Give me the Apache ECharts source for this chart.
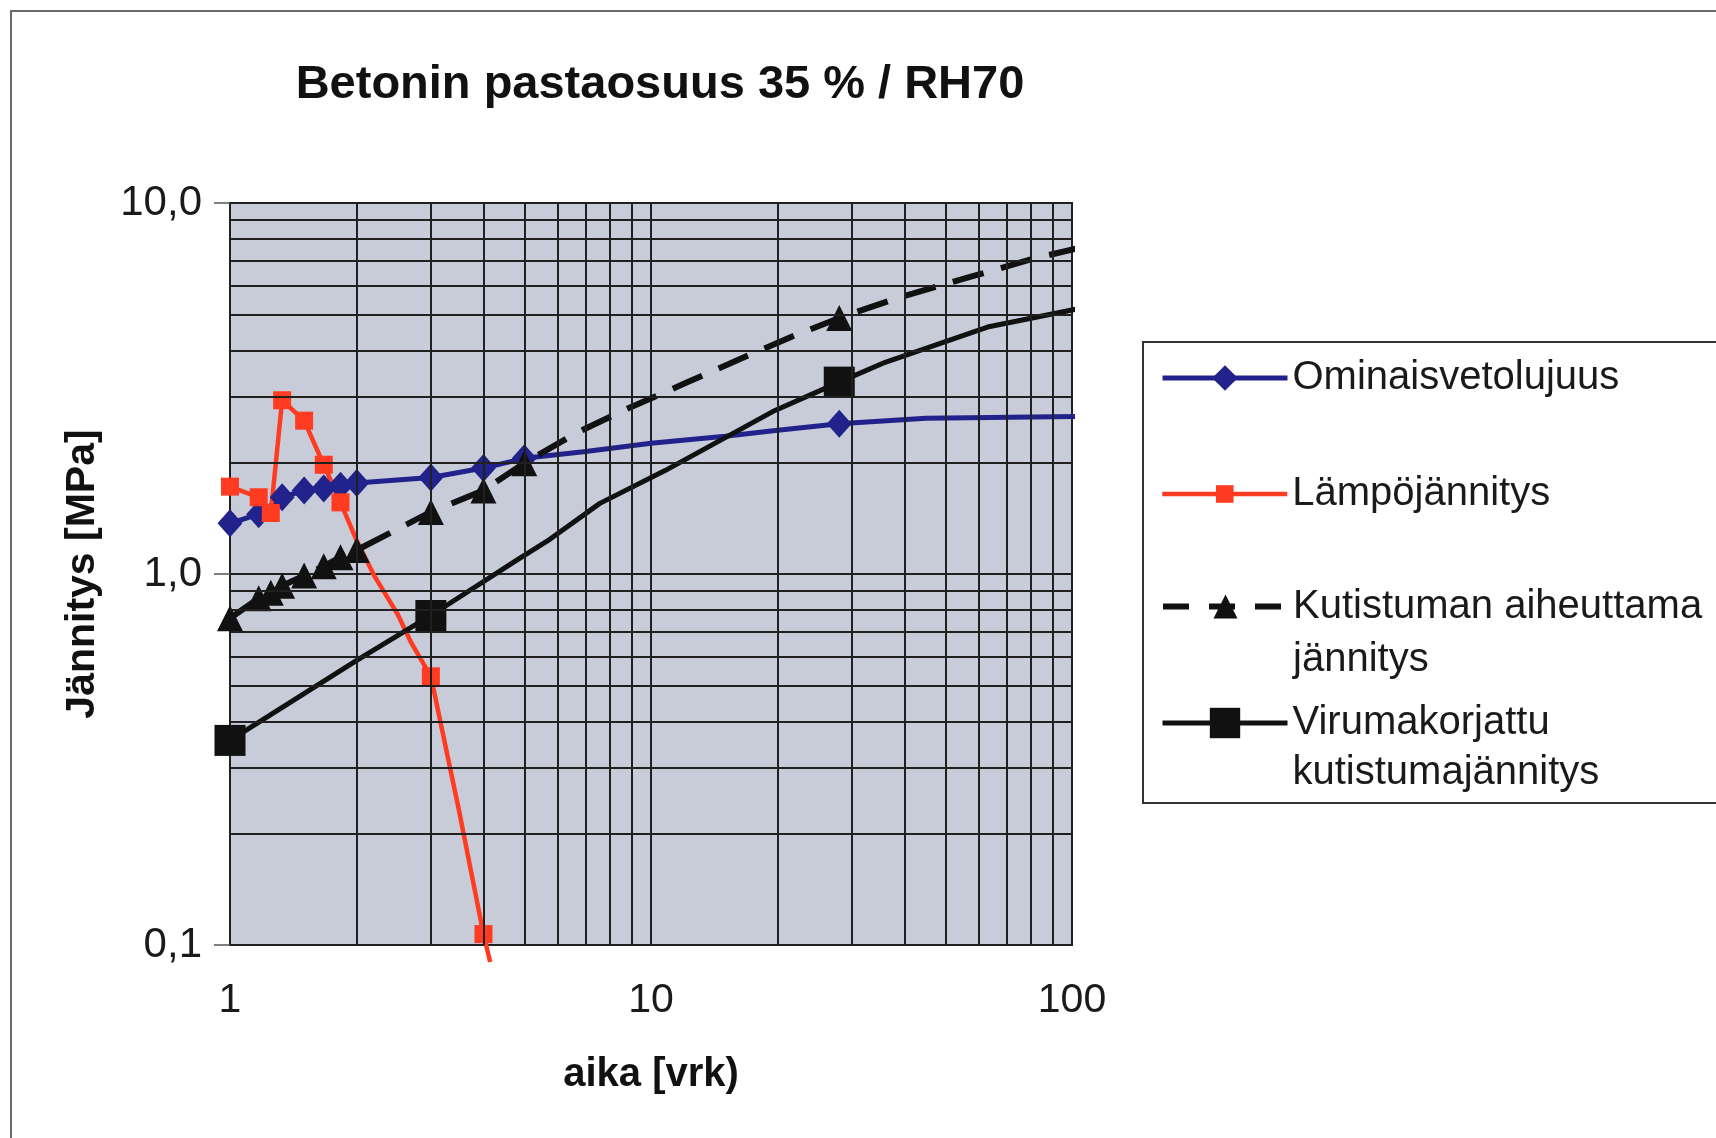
<!DOCTYPE html>
<html>
<head>
<meta charset="utf-8">
<script src="https://cdn.jsdelivr.net/npm/echarts@6/dist/echarts.min.js"></script>
<style>
  html, body { margin: 0; padding: 0; background: #fff; }
  #chart { width: 1716px; height: 1138px; }
</style>
</head>
<body>
<div id="chart"></div>
<script>
// ---- data ----
const titleText = 'Betonin pastaosuus 35 % / RH70';
const xAxisName = 'aika [vrk)';
const yAxisName = 'Jännitys [MPa]';

const seriesNames = ['Ominaisvetolujuus', 'Lämpöjännitys', 'Kutistuman aiheuttama jännitys', 'Virumakorjattu kutistumajännitys'];
const legendLabels = ['Ominaisvetolujuus', 'Lämpöjännitys', 'Kutistuman aiheuttama\njännitys', 'Virumakorjattu\nkutistumajännitys'];

const ominaisDays   = [1, 1.17, 1.33, 1.5, 1.67, 1.83, 2, 3, 4, 5, 7, 10, 15, 20, 28, 45, 110];
const ominaisValues = [1.37, 1.45, 1.61, 1.68, 1.70, 1.73, 1.76, 1.82, 1.93, 2.05, 2.14, 2.25, 2.35, 2.44, 2.54, 2.63, 2.66];
const ominaisMarkerDays = [1, 1.17, 1.33, 1.5, 1.67, 1.83, 2, 3, 4, 5, 28];

const lampoDays   = [1, 1.17, 1.25, 1.33, 1.5, 1.67, 1.83, 2, 2.2, 2.5, 2.7, 3, 3.5, 4, 4.15];
const lampoValues = [1.72, 1.61, 1.46, 2.94, 2.59, 1.97, 1.56, 1.23, 0.99, 0.78, 0.65, 0.53, 0.23, 0.107, 0.09];
const lampoMarkerDays = [1, 1.17, 1.25, 1.33, 1.5, 1.67, 1.83, 3, 4];

const kutistumaDays   = [1, 1.17, 1.25, 1.33, 1.5, 1.67, 1.83, 2, 3, 4, 5, 6.6, 8.6, 12, 17, 22, 28, 38, 57, 81, 110];
const kutistumaValues = [0.76, 0.86, 0.89, 0.93, 0.99, 1.05, 1.11, 1.16, 1.47, 1.68, 1.99, 2.39, 2.76, 3.26, 3.88, 4.4, 4.9, 5.52, 6.31, 7.08, 7.68];
const kutistumaMarkerDays = [1, 1.17, 1.25, 1.33, 1.5, 1.67, 1.83, 2, 3, 4, 5, 28];

const virumaDays   = [1, 2, 3, 4.8, 5.75, 7.56, 10.8, 19.7, 28, 36, 63, 110];
const virumaValues = [0.356, 0.585, 0.773, 1.09, 1.24, 1.55, 1.9, 2.76, 3.29, 3.72, 4.63, 5.26];
const virumaMarkerDays = [1, 3, 28];

const xMin = 1, xMax = 100;
const yMin = 0.1, yMax = 10;
const xMinorGrid = [2, 3, 4, 5, 6, 7, 8, 9, 20, 30, 40, 50, 60, 70, 80, 90];
const yMinorGrid = [0.2, 0.3, 0.4, 0.5, 0.6, 0.7, 0.8, 0.9, 2, 3, 4, 5, 6, 7, 8, 9];

// ---- build ----
const FONT = 'Liberation Sans, Arial, sans-serif';
function buildData(days, values, markerDays) {
  return days.map((d, i) => {
    const item = { value: [d, values[i]] };
    if (markerDays.indexOf(d) < 0) item.symbol = 'none';
    return item;
  });
}

const gridLineStyle = { color: '#202020', width: 2, type: 'solid' };

const seriesColors = ['#22228c', '#ff3b22', '#111111', '#111111'];
const seriesWidths = [5, 4.5, 6, 5];
const seriesDash = ['solid', 'solid', [32, 18], 'solid'];
const legendDash = ['solid', 'solid', [26, 20], 'solid'];

const chart = echarts.init(document.getElementById('chart'), null, { renderer: 'canvas' });

const legendTops = [352, 468, 527, 648];
const legendItemHeights = [32, 22, 30, 38];
const legendLineHeights = [52, 52, 53, 50];

const legends = seriesNames.map((name, i) => ({
  data: [name],
  left: 1160,
  top: legendTops[i],
  orient: 'vertical',
  padding: 0,
  itemWidth: 125,
  itemHeight: legendItemHeights[i],
  selectedMode: false,
  lineStyle: { width: seriesWidths[i], color: seriesColors[i], type: legendDash[i] },
  formatter: () => (i >= 2 ? '\n' : '') + legendLabels[i],
  textStyle: { fontFamily: FONT, fontSize: 40, color: '#1a1a1a', lineHeight: legendLineHeights[i] }
}));

const option = {
  animation: false,
  backgroundColor: '#ffffff',
  title: {
    text: titleText,
    left: 655,
    top: 57,
    textAlign: 'center',
    textStyle: { fontFamily: FONT, fontSize: 47, fontWeight: 'bold', color: '#111' }
  },
  graphic: [
    { type: 'rect', z: -10, shape: { x: 11, y: 11, width: 1800, height: 1300 }, style: { fill: 'none', stroke: '#6a6a6a', lineWidth: 2 } },
    { type: 'rect', z: 0, shape: { x: 1143, y: 342, width: 700, height: 461 }, style: { fill: '#ffffff', stroke: '#333', lineWidth: 2 } }
  ],
  legend: legends,
  grid: {
    left: 230, top: 203, right: 644, bottom: 193,
    show: true, backgroundColor: '#c8cbd8', borderColor: '#202020', borderWidth: 2
  },
  xAxis: {
    type: 'log', logBase: 10, min: xMin, max: xMax,
    name: xAxisName, nameLocation: 'middle', nameGap: 110,
    nameTextStyle: { fontFamily: FONT, fontSize: 40, fontWeight: 'bold', color: '#111' },
    axisLine: { show: true, lineStyle: { color: '#202020', width: 2 } },
    axisTick: { show: false },
    axisLabel: { fontFamily: FONT, fontSize: 41, color: '#1a1a1a', margin: 35 },
    splitLine: { show: true, lineStyle: gridLineStyle }
  },
  yAxis: {
    type: 'log', logBase: 10, min: yMin, max: yMax,
    name: yAxisName, nameLocation: 'middle', nameGap: 127, nameRotate: 90,
    nameTextStyle: { fontFamily: FONT, fontSize: 41, fontWeight: 'bold', color: '#111' },
    axisLine: { show: true, lineStyle: { color: '#202020', width: 2 } },
    axisTick: { show: true, inside: false, length: 16, lineStyle: { color: '#555', width: 1.5 } },
    axisLabel: {
      fontFamily: FONT, fontSize: 42, color: '#1a1a1a', margin: 28,
      formatter: v => Number(v).toFixed(1).replace('.', ',')
    },
    splitLine: { show: true, lineStyle: gridLineStyle }
  },
  series: [
    {
      type: 'line', name: '__grid', data: [], silent: true,
      markLine: {
        silent: true, symbol: ['none', 'none'], animation: false,
        label: { show: false },
        lineStyle: gridLineStyle,
        emphasis: { disabled: true },
        data: xMinorGrid.map(v => ({ xAxis: v })).concat(yMinorGrid.map(v => ({ yAxis: v })))
      }
    },
    {
      type: 'line', name: seriesNames[0], clip: false,
      data: buildData(ominaisDays, ominaisValues, ominaisMarkerDays),
      symbol: 'diamond', symbolSize: [25, 28],
      lineStyle: { color: seriesColors[0], width: seriesWidths[0], type: seriesDash[0] },
      itemStyle: { color: seriesColors[0] }
    },
    {
      type: 'line', name: seriesNames[1], clip: false,
      data: buildData(lampoDays, lampoValues, lampoMarkerDays),
      symbol: 'rect', symbolSize: 18,
      lineStyle: { color: seriesColors[1], width: seriesWidths[1], type: seriesDash[1] },
      itemStyle: { color: seriesColors[1] }
    },
    {
      type: 'line', name: seriesNames[2], clip: false,
      data: buildData(kutistumaDays, kutistumaValues, kutistumaMarkerDays),
      symbol: 'triangle', symbolSize: 26,
      lineStyle: { color: seriesColors[2], width: seriesWidths[2], type: seriesDash[2] },
      itemStyle: { color: seriesColors[2] }
    },
    {
      type: 'line', name: seriesNames[3], clip: false,
      data: buildData(virumaDays, virumaValues, virumaMarkerDays),
      symbol: 'rect', symbolSize: 31,
      lineStyle: { color: seriesColors[3], width: seriesWidths[3], type: seriesDash[3] },
      itemStyle: { color: seriesColors[3] }
    }
  ]
};
chart.setOption(option);
</script>
</body>
</html>
